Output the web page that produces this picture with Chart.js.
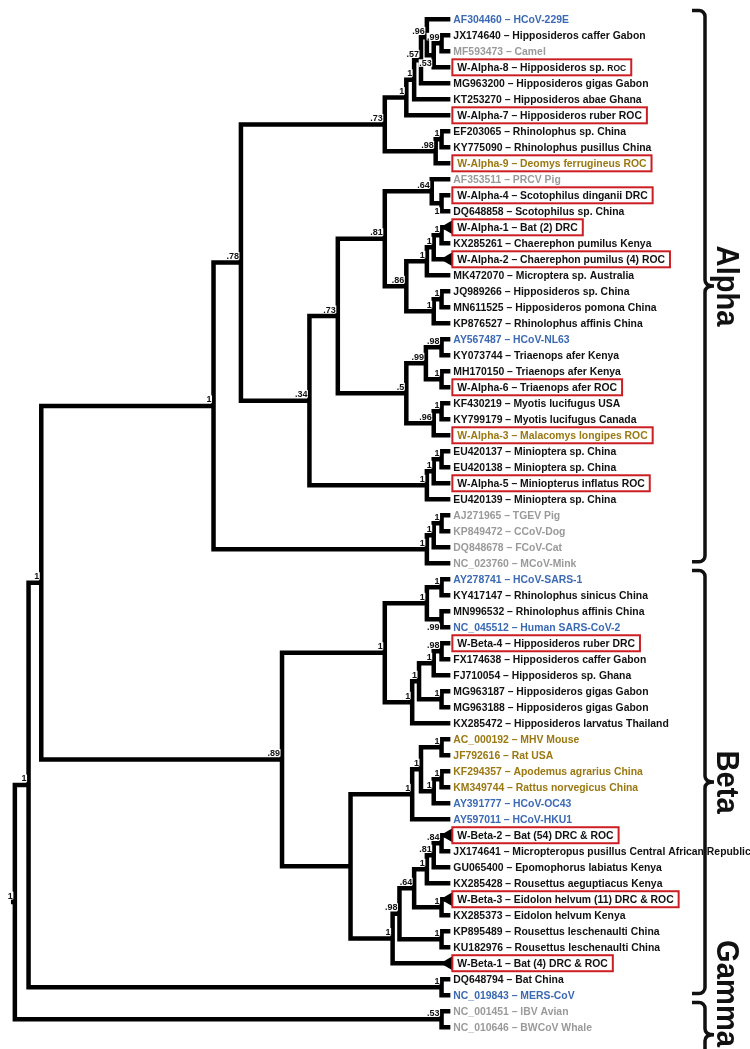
<!DOCTYPE html>
<html>
<head>
<meta charset="utf-8">
<script src="https://cdn.jsdelivr.net/npm/chart.js@4.4.0/dist/chart.umd.min.js"></script>
<style>
  html, body { margin: 0; padding: 0; background: #fff; }
  canvas { display: block; }
</style>
</head>
<body>
<canvas id="tree" width="750" height="1049"></canvas>
<script>
// Tip labels, top to bottom
const leafLabels = [
    "AF304460 – HCoV-229E",
    "JX174640 – Hipposideros caffer Gabon",
    "MF593473 – Camel",
    "W-Alpha-8 – Hipposideros sp.",
    "MG963200 – Hipposideros gigas Gabon",
    "KT253270 – Hipposideros abae Ghana",
    "W-Alpha-7 – Hipposideros ruber ROC",
    "EF203065 – Rhinolophus sp. China",
    "KY775090 – Rhinolophus pusillus China",
    "W-Alpha-9 – Deomys ferrugineus ROC",
    "AF353511 – PRCV Pig",
    "W-Alpha-4 – Scotophilus dinganii DRC",
    "DQ648858 – Scotophilus sp. China",
    "W-Alpha-1 – Bat (2) DRC",
    "KX285261 – Chaerephon pumilus Kenya",
    "W-Alpha-2 – Chaerephon pumilus (4) ROC",
    "MK472070 – Microptera sp. Australia",
    "JQ989266 – Hipposideros sp. China",
    "MN611525 – Hipposideros pomona China",
    "KP876527 – Rhinolophus affinis China",
    "AY567487 – HCoV-NL63",
    "KY073744 – Triaenops afer Kenya",
    "MH170150 – Triaenops afer Kenya",
    "W-Alpha-6 – Triaenops afer ROC",
    "KF430219 – Myotis lucifugus USA",
    "KY799179 – Myotis lucifugus Canada",
    "W-Alpha-3 – Malacomys longipes ROC",
    "EU420137 – Minioptera sp. China",
    "EU420138 – Minioptera sp. China",
    "W-Alpha-5 – Miniopterus inflatus ROC",
    "EU420139 – Minioptera sp. China",
    "AJ271965 – TGEV Pig",
    "KP849472 – CCoV-Dog",
    "DQ848678 – FCoV-Cat",
    "NC_023760 – MCoV-Mink",
    "AY278741 – HCoV-SARS-1",
    "KY417147 – Rhinolophus sinicus China",
    "MN996532 – Rhinolophus affinis China",
    "NC_045512 – Human SARS-CoV-2",
    "W-Beta-4 – Hipposideros ruber DRC",
    "FX174638 – Hipposideros caffer Gabon",
    "FJ710054 – Hipposideros sp. Ghana",
    "MG963187 – Hipposideros gigas Gabon",
    "MG963188 – Hipposideros gigas Gabon",
    "KX285472 – Hipposideros larvatus Thailand",
    "AC_000192 – MHV Mouse",
    "JF792616 – Rat USA",
    "KF294357 – Apodemus agrarius China",
    "KM349744 – Rattus norvegicus China",
    "AY391777 – HCoV-OC43",
    "AY597011 – HCoV-HKU1",
    "W-Beta-2 – Bat (54) DRC & ROC",
    "JX174641 – Micropteropus pusillus Central African Republic",
    "GU065400 – Epomophorus labiatus Kenya",
    "KX285428 – Rousettus aeguptiacus Kenya",
    "W-Beta-3 – Eidolon helvum (11) DRC & ROC",
    "KX285373 – Eidolon helvum Kenya",
    "KP895489 – Rousettus leschenaulti China",
    "KU182976 – Rousettus leschenaulti China",
    "W-Beta-1 – Bat (4) DRC & ROC",
    "DQ648794 – Bat China",
    "NC_019843 – MERS-CoV",
    "NC_001451 – IBV Avian",
    "NC_010646 – BWCoV Whale",
];
const leafSmallSuffix = { 4: "ROC" };

// k = bat/other, b = human, g = other animal, o = rodent
const leafColorKeys = (
    "bkgkkkkkko" + "gkkkkkkkkk" + "bkkkkkokkk" + "kggggbkkbk" +
    "kkkkkoooob" + "bkkkkkkkkk" + "kbgg"
).split("");

const boxedLeaves = [4, 7, 10, 12, 14, 16, 24, 27, 30, 40, 52, 56, 60];
const collapsedLeaves = [14, 16, 52, 56, 60];

// internal nodes: [id, depth, children (leaf numbers or node ids), support]
const treeNodes = [
    ["a99", 443, [2, 3], ".99"],
    ["a53", 435, ["a99", 4], ".53"],
    ["a96", 428, [1, "a53"], ".96"],
    ["a57", 422, ["a96", 5], ".57"],
    ["a1a", 415, ["a57", 6], "1"],
    ["a1b", 407, ["a1a", 7], "1"],
    ["a1c", 443, [8, 9], "1"],
    ["a98", 437, ["a1c", 10], ".98"],
    ["a73", 385, ["a1b", "a98"], ".73"],
    ["a1d", 443, [12, 13], "1"],
    ["a64", 433, [11, "a1d"], ".64"],
    ["a1e", 443, [14, 15], "1"],
    ["a1f", 435, ["a1e", 16], "1"],
    ["a1g", 428, ["a1f", 17], "1"],
    ["a1h", 443, [18, 19], "1"],
    ["a1i", 435, ["a1h", 20], "1"],
    ["a86", 407, ["a1g", "a1i"], ".86"],
    ["a81", 385, ["a64", "a86"], ".81"],
    ["a98b", 443, [21, 22], ".98"],
    ["a1j", 443, [23, 24], "1"],
    ["a99b", 427, ["a98b", "a1j"], ".99"],
    ["a1k", 443, [25, 26], "1"],
    ["a96b", 435, ["a1k", 27], ".96"],
    ["a5", 407, ["a99b", "a96b"], ".5"],
    ["a73b", 337, ["a81", "a5"], ".73"],
    ["a1l", 443, [28, 29], "1"],
    ["a1m", 435, ["a1l", 30], "1"],
    ["a1n", 428, ["a1m", 31], "1"],
    ["a34", 308, ["a73b", "a1n"], ".34"],
    ["a78", 238, ["a73", "a34"], ".78"],
    ["a1o", 443, [32, 33], "1"],
    ["a1p", 435, ["a1o", 34], "1"],
    ["a1q", 428, ["a1p", 35], "1"],
    ["alpha", 210, ["a78", "a1q"], "1"],
    ["b1r", 443, [36, 37], "1"],
    ["b99", 443, [38, 39], ".99"],
    ["bS1", 428, ["b1r", "b99"], "1"],
    ["b98", 443, [40, 41], ".98"],
    ["b1s", 435, ["b98", 42], "1"],
    ["b1t", 443, [43, 44], "1"],
    ["b1u", 420, ["b1s", "b1t"], "1"],
    ["b1v", 413, ["b1u", 45], "1"],
    ["bS", 385, ["bS1", "b1v"], "1"],
    ["b1w", 443, [46, 47], "1"],
    ["b1x", 443, [48, 49], "1"],
    ["b1y", 435, ["b1x", 50], "1"],
    ["b1z", 422, ["b1w", "b1y"], "1"],
    ["b1aa", 413, ["b1z", 51], "1"],
    ["b84", 443, [52, 53], ".84"],
    ["b81", 435, ["b84", 54], ".81"],
    ["b1bb", 428, ["b81", 55], "1"],
    ["b1cc", 443, [56, 57], "1"],
    ["b64", 415, ["b1bb", "b1cc"], ".64"],
    ["b1dd", 443, [58, 59], "1"],
    ["b98d", 400, ["b64", "b1dd"], ".98"],
    ["b1ee", 393, ["b98d", 60], "1"],
    ["b1ff", 350, ["b1aa", "b1ee"], ""],
    ["beta", 280, ["bS", "b1ff"], ".89"],
    ["mers", 443, [61, 62], "1"],
    ["ibv", 443, [63, 64], ".53"],
    ["nA", 34, ["alpha", "beta"], "1"],
    ["nB", 21, ["nA", "mers"], "1"],
    ["root", 7, ["nB", "ibv"], "1"],
];
// support values printed under the node instead of above it
const labelBelow = ["a53", "a1d", "b99"];

const tipDepth = 452;
const rootStubDepth = 3;

const cladeNames = ["Alpha", "Beta", "Gamma"];
const cladeFirstLeaf = [1, 36, 63];
const cladeLastLeaf = [35, 62, 66.6];

const colors = { k: "#111111", b: "#3b69b3", g: "#9a9a9a", o: "#9a7812" };
const boxColor = "#cc1f24";
const fontFamily = "'Liberation Sans', Arial, sans-serif";

// node coordinates: x = depth, y = leaf order
const nodeX = {};
const nodeY = {};
leafLabels.forEach(function (_, i) {
    nodeX[i + 1] = tipDepth;
    nodeY[i + 1] = i + 1;
});
treeNodes.forEach(function (n) {
    const kids = n[2];
    nodeX[n[0]] = n[1];
    nodeY[n[0]] = (nodeY[kids[0]] + nodeY[kids[kids.length - 1]]) / 2;
});

// elbow branches, broken by null points
const branchPoints = [];
treeNodes.forEach(function (n) {
    const kids = n[2];
    const first = kids[0];
    const last = kids[kids.length - 1];
    branchPoints.push(
        { x: nodeX[first], y: nodeY[first] },
        { x: n[1], y: nodeY[first] },
        { x: n[1], y: nodeY[last] },
        { x: nodeX[last], y: nodeY[last] },
        { x: null, y: null }
    );
});
const rootNode = treeNodes[treeNodes.length - 1];
branchPoints.push(
    { x: rootStubDepth, y: nodeY[rootNode[0]] },
    { x: rootNode[1], y: nodeY[rootNode[0]] }
);

const trianglePoints = collapsedLeaves.map(function (leaf) {
    return { x: tipDepth - 2, y: leaf };
});

const treeLabels = {
    id: "treeLabels",
    afterDatasetsDraw: function (chart) {
        const ctx = chart.ctx;
        const xs = chart.scales.x;
        const ys = chart.scales.y;
        ctx.save();

        // support values
        ctx.font = "bold 9px " + fontFamily;
        ctx.textAlign = "right";
        treeNodes.forEach(function (n) {
            if (!n[3]) return;
            const px = xs.getPixelForValue(n[1]) - 2;
            const py = ys.getPixelForValue(nodeY[n[0]]);
            const w = ctx.measureText(n[3]).width;
            const base = labelBelow.includes(n[0]) ? py + 11 : py - 3.5;
            ctx.fillStyle = "#fff";
            ctx.fillRect(px - w - 0.5, base - 7, w + 1, 7.5);
            ctx.fillStyle = "#111";
            ctx.textBaseline = "alphabetic";
            ctx.fillText(n[3], px, base);
        });

        // tip labels
        ctx.textAlign = "left";
        ctx.textBaseline = "middle";
        const tipPx = xs.getPixelForValue(tipDepth);
        leafLabels.forEach(function (txt, i) {
            const leaf = i + 1;
            const py = ys.getPixelForValue(leaf);
            const boxed = boxedLeaves.includes(leaf);
            const px = tipPx + (boxed ? 7 : 3);
            ctx.font = "bold 10.4px " + fontFamily;
            ctx.fillStyle = colors[leafColorKeys[i]];
            ctx.fillText(txt, px, py + 0.5);
            let w = ctx.measureText(txt).width;
            if (leafSmallSuffix[leaf]) {
                ctx.font = "bold 8.5px " + fontFamily;
                ctx.fillText(leafSmallSuffix[leaf], px + w + 3, py + 1.2);
                w += 3 + ctx.measureText(leafSmallSuffix[leaf]).width;
            }
            if (boxed) {
                ctx.strokeStyle = boxColor;
                ctx.lineWidth = 2;
                ctx.strokeRect(px - 5, py - 8, w + 10, 16);
            }
        });

        // clade brackets
        const bx = 705;
        const r = 6;
        cladeNames.forEach(function (name, k) {
            const top = ys.getPixelForValue(cladeFirstLeaf[k] - 0.55);
            const bot = ys.getPixelForValue(cladeLastLeaf[k] - 0.1);
            const mid = (top + bot) / 2;
            ctx.strokeStyle = "#111";
            ctx.lineWidth = 3.5;
            ctx.beginPath();
            ctx.moveTo(bx - 13, top);
            ctx.arcTo(bx, top, bx, top + r, r);
            ctx.lineTo(bx, mid - r);
            ctx.quadraticCurveTo(bx, mid, bx + 9, mid);
            ctx.quadraticCurveTo(bx, mid, bx, mid + r);
            ctx.lineTo(bx, bot - r);
            ctx.arcTo(bx, bot, bx - 13, bot, r);
            ctx.lineTo(bx - 13, bot);
            ctx.stroke();

            ctx.font = "bold 31px " + fontFamily;
            const half = ctx.measureText(name).width * 0.94 / 2;
            const cy = Math.min(mid, chart.height - half - 2);
            ctx.save();
            ctx.translate(bx + 12, cy);
            ctx.rotate(Math.PI / 2);
            ctx.scale(0.94, 1);
            ctx.textAlign = "center";
            ctx.textBaseline = "alphabetic";
            ctx.fillStyle = "#111";
            ctx.fillText(name, 0, 0);
            ctx.restore();
        });

        ctx.restore();
    },
};

new Chart(document.getElementById("tree"), {
    type: "line",
    data: {
        datasets: [
            {
                data: branchPoints,
                borderColor: "#000",
                borderWidth: 4.5,
                borderJoinStyle: "miter",
                borderCapStyle: "butt",
                pointRadius: 0,
                spanGaps: false,
                tension: 0,
                clip: false,
            },
            {
                data: trianglePoints,
                showLine: false,
                pointStyle: "triangle",
                rotation: 270,
                pointRadius: 8,
                backgroundColor: "#000",
                borderColor: "#000",
                borderWidth: 0,
                clip: false,
            },
        ],
    },
    options: {
        responsive: false,
        animation: false,
        events: [],
        layout: { padding: 0 },
        plugins: { legend: { display: false }, tooltip: { enabled: false } },
        scales: {
            x: { type: "linear", min: 0, max: 750, display: false },
            y: { type: "linear", min: 0.292, max: 64.862, reverse: true, display: false },
        },
    },
    plugins: [treeLabels],
});
</script>
</body>
</html>
